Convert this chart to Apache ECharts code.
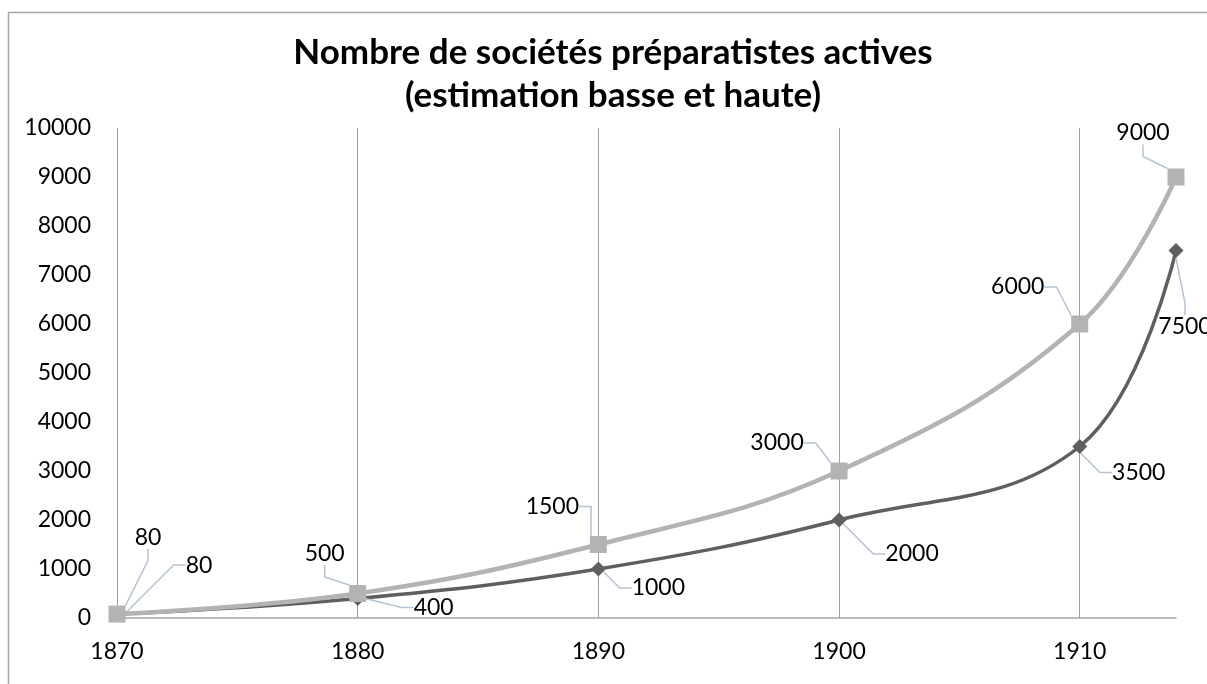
<!DOCTYPE html>
<html>
<head>
<meta charset="utf-8">
<script src="https://cdn.jsdelivr.net/npm/echarts@6/dist/echarts.min.js"></script>
<style>
  html, body { margin: 0; padding: 0; background: #fff; }
  #chart { width: 1207px; height: 684px; }
</style>
</head>
<body>
<div id="chart"></div>
<script>
// years on the x axis
var years = [1870, 1880, 1890, 1900, 1910, 1914];
// estimation basse / haute
var lowValues = [80, 400, 1000, 2000, 3500, 7500];
var highValues = [80, 500, 1500, 3000, 6000, 9000];

// where each data label sits relative to its point (px)
var lowLabelShift = [[82, -49], [76, 9], [60, 19], [73, 34], [59, 26], [9, 76]];
var highLabelShift = [[31, -77], [-33, -40], [-46, -38], [-62, -28], [-62, -37], [-33, -44]];

function pairs(xs, ys) {
  var out = [];
  for (var i = 0; i < xs.length; i++) {
    out.push([xs[i], ys[i]]);
  }
  return out;
}

var myChart = echarts.init(document.getElementById('chart'), null, {renderer: 'canvas'});

var labelFont = 'Lato, "Liberation Sans", sans-serif';

function makeLabel() {
  return {
    show: true,
    position: 'inside',
    color: '#000',
    fontSize: 23,
    fontFamily: labelFont,
    formatter: function (p) { return String(p.value[1]); }
  };
}

var option = {
  animation: false,
  backgroundColor: '#fff',
  title: {
    text: 'Nombre de sociétés préparatistes actives\n(estimation basse et haute)',
    left: 608,
    top: 26,
    textAlign: 'center',
    textStyle: {
      fontFamily: labelFont,
      fontSize: 35,
      fontWeight: 'bold',
      lineHeight: 43,
      color: '#000'
    }
  },
  graphic: [{
    type: 'rect',
    shape: {x: 8.5, y: 12.5, width: 1240, height: 700},
    style: {fill: 'none', stroke: '#a6a6a6', lineWidth: 1.5},
    silent: true,
    z: -1
  }],
  grid: {
    left: 117,
    right: 31,
    top: 128,
    bottom: 66
  },
  xAxis: {
    type: 'value',
    min: 1870,
    max: 1914,
    interval: 10,
    axisLine: {show: true, lineStyle: {color: '#a6a6a6', width: 1.5}},
    axisTick: {show: false},
    axisLabel: {
      color: '#000',
      fontSize: 23,
      fontFamily: labelFont,
      margin: 22,
      showMaxLabel: false,
      formatter: function (v) { return String(v); }
    },
    splitLine: {
      show: true,
      showMinLine: true,
      showMaxLine: false,
      lineStyle: {color: '#a0a0a0', width: 1}
    }
  },
  yAxis: {
    type: 'value',
    min: 0,
    max: 10000,
    interval: 1000,
    axisLine: {show: false},
    axisTick: {show: false},
    splitLine: {show: false},
    axisLabel: {
      color: '#000',
      fontSize: 23,
      fontFamily: labelFont,
      margin: 26,
      formatter: function (v) { return String(v); }
    }
  },
  series: [
    {
      name: 'Estimation basse',
      type: 'line',
      smooth: 0.4,
      data: pairs(years, lowValues),
      symbol: 'diamond',
      symbolSize: 15,
      lineStyle: {color: '#5f5f5f', width: 3.5},
      itemStyle: {color: '#5f5f5f'},
      label: makeLabel(),
      labelLine: {show: true, length2: 12, lineStyle: {color: '#b4c3d6', width: 1.5}},
      labelLayout: function (params) {
        var s = lowLabelShift[params.dataIndex];
        return {dx: s[0], dy: s[1]};
      },
      z: 2
    },
    {
      name: 'Estimation haute',
      type: 'line',
      smooth: 0.4,
      data: pairs(years, highValues),
      symbol: 'rect',
      symbolSize: 17,
      lineStyle: {color: '#b3b3b3', width: 4.5},
      itemStyle: {color: '#b3b3b3'},
      label: makeLabel(),
      labelLine: {show: true, length2: 12, lineStyle: {color: '#b4c3d6', width: 1.5}},
      labelLayout: function (params) {
        var s = highLabelShift[params.dataIndex];
        return {dx: s[0], dy: s[1]};
      },
      z: 3
    }
  ]
};

myChart.setOption(option);
</script>
</body>
</html>
